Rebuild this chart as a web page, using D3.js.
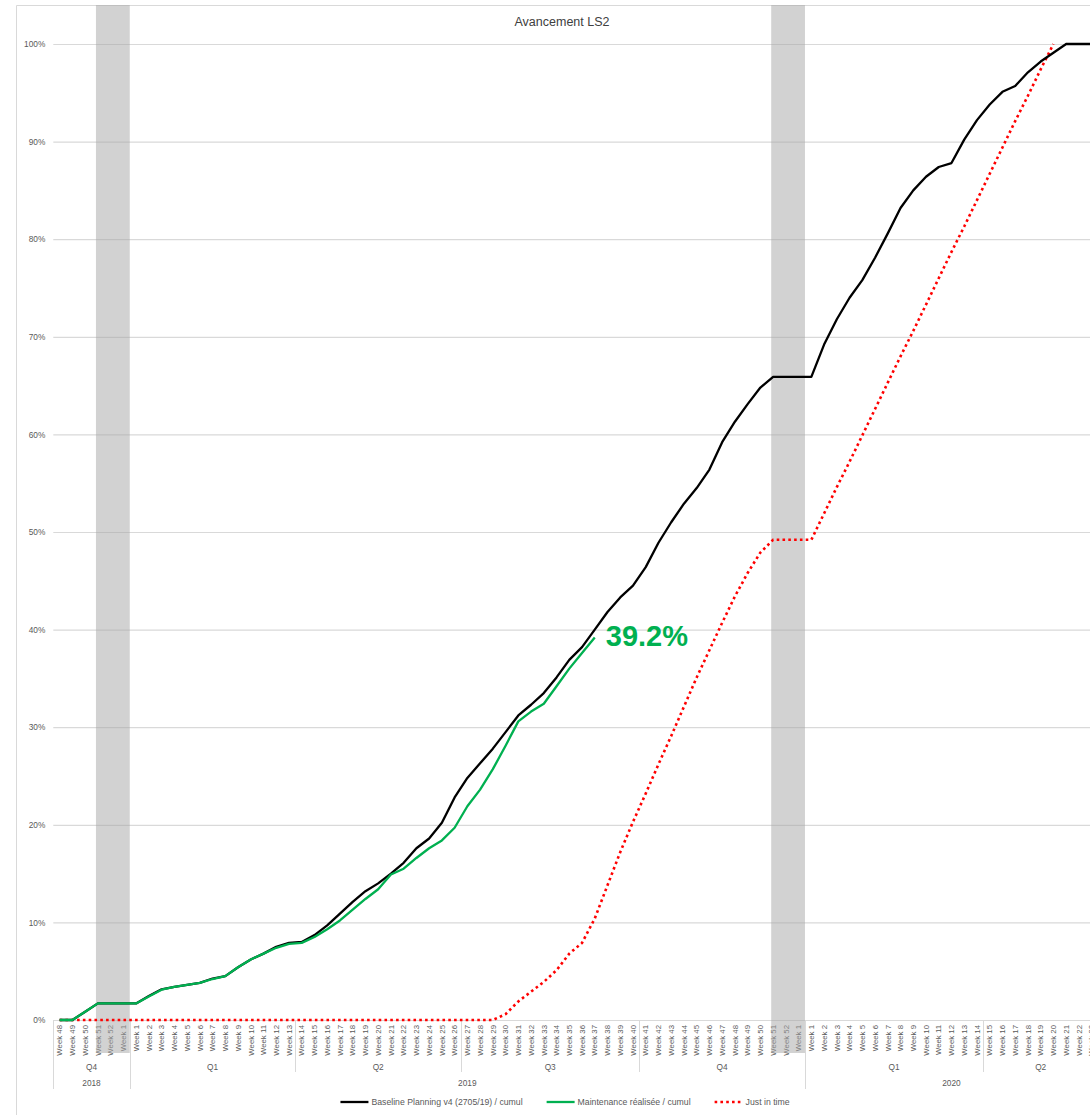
<!DOCTYPE html>
<html>
<head>
<meta charset="utf-8">
<script src="https://cdn.jsdelivr.net/npm/d3@7"></script>
<style>
  html, body { margin: 0; padding: 0; background: #fff; }
  svg { display: block; font-family: "Liberation Sans", Arial, sans-serif; }
</style>
</head>
<body>
<svg id="chart" width="1090" height="1115"></svg>
<script>
// Week categories (cumulative progress is reported weekly)
const weeks = [
  "Week 48","Week 49","Week 50","Week 51","Week 52","Week 1",
  "Week 1","Week 2","Week 3","Week 4","Week 5","Week 6","Week 7","Week 8","Week 9","Week 10","Week 11","Week 12","Week 13",
  "Week 14","Week 15","Week 16","Week 17","Week 18","Week 19","Week 20","Week 21","Week 22","Week 23","Week 24","Week 25","Week 26",
  "Week 27","Week 28","Week 29","Week 30","Week 31","Week 32","Week 33","Week 34","Week 35","Week 36","Week 37","Week 38","Week 39","Week 40",
  "Week 41","Week 42","Week 43","Week 44","Week 45","Week 46","Week 47","Week 48","Week 49","Week 50","Week 51","Week 52","Week 1",
  "Week 1","Week 2","Week 3","Week 4","Week 5","Week 6","Week 7","Week 8","Week 9","Week 10","Week 11","Week 12","Week 13","Week 14",
  "Week 15","Week 16","Week 17","Week 18","Week 19","Week 20","Week 21","Week 22","Week 23"
];

// Quarter groups and the number of weeks in each
const quarters = ["Q4","Q1","Q2","Q3","Q4","Q1","Q2"];
const quarterWeekCounts = [6, 13, 13, 14, 13, 14, 9];

// Years and the number of quarter groups in each
const years = ["2018","2019","2020"];
const yearQuarterCounts = [1, 4, 2];

// Shutdown periods (first and last week index of each shaded block)
const shutdowns = [[3, 5], [56, 58]];

// Cumulative progress, in percent
const baseline = [
  0, 0, 0.85, 1.7, 1.7, 1.7, 1.7, 2.45, 3.15, 3.4,
  3.6, 3.8, 4.25, 4.5, 5.4, 6.2, 6.8, 7.5, 7.9, 8.0,
  8.7, 9.7, 10.9, 12.1, 13.2, 14.0, 15.0, 16.1, 17.6, 18.6,
  20.2, 22.8, 24.8, 26.3, 27.8, 29.5, 31.2, 32.3, 33.5, 35.1,
  36.9, 38.2, 40.0, 41.8, 43.3, 44.5, 46.4, 48.9, 51.0, 52.9,
  54.5, 56.4, 59.2, 61.3, 63.1, 64.8, 65.9, 65.9, 65.9, 65.9,
  69.2, 71.8, 74.0, 75.8, 78.1, 80.6, 83.2, 85.0, 86.4, 87.4,
  87.8, 90.2, 92.2, 93.8, 95.1, 95.7, 97.1, 98.2, 99.1, 100,
  100, 100
];

const realised = [
  0, 0, 0.85, 1.7, 1.7, 1.7, 1.7, 2.4, 3.1, 3.4,
  3.6, 3.8, 4.2, 4.5, 5.4, 6.2, 6.8, 7.4, 7.8, 7.9,
  8.5, 9.3, 10.2, 11.3, 12.4, 13.4, 14.9, 15.5, 16.6, 17.6,
  18.4, 19.7, 21.9, 23.6, 25.7, 28.1, 30.6, 31.6, 32.4, 34.2,
  36.0, 37.6, 39.2
];

const justInTime = [
  0, 0, 0, 0, 0, 0, 0, 0, 0, 0,
  0, 0, 0, 0, 0, 0, 0, 0, 0, 0,
  0, 0, 0, 0, 0, 0, 0, 0, 0, 0,
  0, 0, 0, 0, 0, 0.6, 1.9, 2.9, 3.9, 5.1,
  6.8, 7.9, 10.4, 13.8, 17.2, 20.3, 23.2, 26.2, 29.1, 32.1,
  35.1, 37.9, 40.7, 43.4, 45.8, 47.9, 49.2, 49.2, 49.2, 49.2,
  51.9, 54.6, 57.2, 59.9, 62.6, 65.3, 68.0, 70.6, 73.3, 76.0,
  78.7, 81.3, 84.0, 86.7, 89.4, 92.1, 94.7, 97.4, 100
];

const seriesNames = ["Baseline Planning v4 (2705/19) / cumul", "Maintenance réalisée / cumul", "Just in time"];
const yTicks = [0, 0.1, 0.2, 0.3, 0.4, 0.5, 0.6, 0.7, 0.8, 0.9, 1];

// ---- layout -------------------------------------------------------------
const W = 1090, H = 1115;
const frame = { left: 16, top: 5 };
const plot = { left: 53.3, right: 1098, top: 44, bottom: 1020 };
const grey = "#595959", rule = "#d9d9d9";

const svg = d3.select("#chart");
svg.append("rect").attr("width", W).attr("height", H).attr("fill", "#fff");

// chart frame (left and top edges fall inside the view)
svg.append("path")
  .attr("d", `M${frame.left + 0.5},${H + 5}V${frame.top + 0.5}H${W + 5}`)
  .attr("fill", "none").attr("stroke", rule).attr("stroke-width", 1);

const x = d3.scaleBand().domain(d3.range(weeks.length)).range([plot.left, plot.right]).padding(0);
const bw = x.bandwidth();
const cx = i => x(i) + bw / 2;
const y = d3.scaleLinear().domain([0, 1]).range([plot.bottom, plot.top]);

// title
svg.append("text")
  .attr("x", 562).attr("y", 26)
  .attr("text-anchor", "middle")
  .attr("font-size", 12.5).attr("fill", "#404040")
  .text("Avancement LS2");

// y axis with gridlines
const yAxis = svg.append("g")
  .attr("transform", `translate(${plot.left},0)`)
  .call(d3.axisLeft(y).tickValues(yTicks).tickFormat(d3.format(".0%"))
    .tickSize(-(plot.right - plot.left)).tickPadding(8));
yAxis.select(".domain").remove();
yAxis.selectAll(".tick line").attr("stroke", rule).attr("stroke-width", 1.2);
yAxis.selectAll(".tick text").attr("fill", grey).attr("font-size", 8.3)
  .attr("font-family", "Liberation Sans, Arial, sans-serif");

// x axis: week labels, rotated
const xAxis = svg.append("g")
  .attr("transform", `translate(0,${plot.bottom})`)
  .call(d3.axisBottom(x).tickSize(0).tickFormat(i => weeks[i]));
xAxis.select(".domain").remove();
xAxis.selectAll(".tick text")
  .attr("transform", "rotate(-90)")
  .attr("x", -5).attr("y", 0).attr("dy", "0.35em")
  .attr("text-anchor", "end")
  .attr("fill", grey).attr("font-size", 7.8)
  .attr("font-family", "Liberation Sans, Arial, sans-serif");

// quarter and year groupings under the week labels
const qBounds = [0];
quarterWeekCounts.forEach(c => qBounds.push(qBounds[qBounds.length - 1] + c));
const yearStartQ = [0];
yearQuarterCounts.forEach(c => yearStartQ.push(yearStartQ[yearStartQ.length - 1] + c));
const yearBoundWeeks = yearStartQ.map(q => qBounds[q]);
const edgeX = k => (k < weeks.length ? x(k) : x(weeks.length - 1) + bw);

const sep = svg.append("g").attr("stroke", rule).attr("stroke-width", 1);
qBounds.forEach(k => {
  const isYear = yearBoundWeeks.includes(k);
  sep.append("line")
    .attr("x1", Math.round(edgeX(k)) + 0.5).attr("x2", Math.round(edgeX(k)) + 0.5)
    .attr("y1", plot.bottom).attr("y2", isYear ? 1089 : 1072);
});

svg.append("g").selectAll("text").data(quarters).join("text")
  .attr("x", (q, j) => (edgeX(qBounds[j]) + edgeX(qBounds[j + 1])) / 2)
  .attr("y", 1070)
  .attr("text-anchor", "middle").attr("font-size", 8.3).attr("fill", grey)
  .text(d => d);

svg.append("g").selectAll("text").data(years).join("text")
  .attr("x", (yr, j) => (edgeX(yearBoundWeeks[j]) + edgeX(yearBoundWeeks[j + 1])) / 2)
  .attr("y", 1086)
  .attr("text-anchor", "middle").attr("font-size", 8.3).attr("fill", grey)
  .text(d => d);

// horizontal axis line
svg.append("line")
  .attr("x1", plot.left).attr("x2", plot.right)
  .attr("y1", plot.bottom + 0.5).attr("y2", plot.bottom + 0.5)
  .attr("stroke", rule).attr("stroke-width", 1.2);

// shaded shutdown blocks (translucent, over the labels)
svg.append("g").selectAll("rect").data(shutdowns).join("rect")
  .attr("x", d => cx(d[0]) - bw * 0.15)
  .attr("width", d => x(d[1]) + bw - (cx(d[0]) - bw * 0.15))
  .attr("y", frame.top)
  .attr("height", 1053 - frame.top)
  .attr("fill", "#a6a6a6").attr("opacity", 0.5);

// series
const line = d3.line()
  .defined(d => d != null)
  .x((d, i) => cx(i))
  .y(d => y(d / 100));

svg.append("path").datum(justInTime)
  .attr("d", line).attr("fill", "none")
  .attr("stroke", "#ff0000").attr("stroke-width", 2.6)
  .attr("stroke-dasharray", "2.6 3.2");

svg.append("path").datum(baseline)
  .attr("d", line).attr("fill", "none")
  .attr("stroke", "#000").attr("stroke-width", 2.3)
  .attr("stroke-linejoin", "round");

svg.append("path").datum(realised)
  .attr("d", line).attr("fill", "none")
  .attr("stroke", "#00b050").attr("stroke-width", 2.3)
  .attr("stroke-linejoin", "round");

// value label at the latest realised point
const lastIdx = realised.length - 1;
const lastVal = realised[lastIdx];
svg.append("text")
  .attr("x", cx(lastIdx) + 11)
  .attr("y", y(lastVal / 100) + 9)
  .attr("font-size", 29).attr("font-weight", "bold")
  .attr("fill", "#00b050")
  .text(d3.format(".1f")(lastVal) + "%");

// legend
const legendStyles = [
  { stroke: "#000", dash: null, width: 2.3 },
  { stroke: "#00b050", dash: null, width: 2.3 },
  { stroke: "#ff0000", dash: "2.6 3.2", width: 2.6 }
];
const legend = svg.append("g");
let lx = 0;
const items = seriesNames.map((name, i) => {
  const g = legend.append("g");
  g.append("line").attr("x1", 0).attr("x2", 28).attr("y1", 0).attr("y2", 0)
    .attr("stroke", legendStyles[i].stroke)
    .attr("stroke-width", legendStyles[i].width)
    .attr("stroke-dasharray", legendStyles[i].dash);
  const t = g.append("text").attr("x", 31).attr("y", 3)
    .attr("font-size", 8.7).attr("fill", grey).text(name);
  const w = 31 + t.node().getComputedTextLength();
  g.attr("transform", `translate(${lx},0)`);
  lx += w + 24;
  return g;
});
const legendWidth = lx - 24;
legend.attr("transform", `translate(${565 - legendWidth / 2},1102)`);
</script>
</body>
</html>
